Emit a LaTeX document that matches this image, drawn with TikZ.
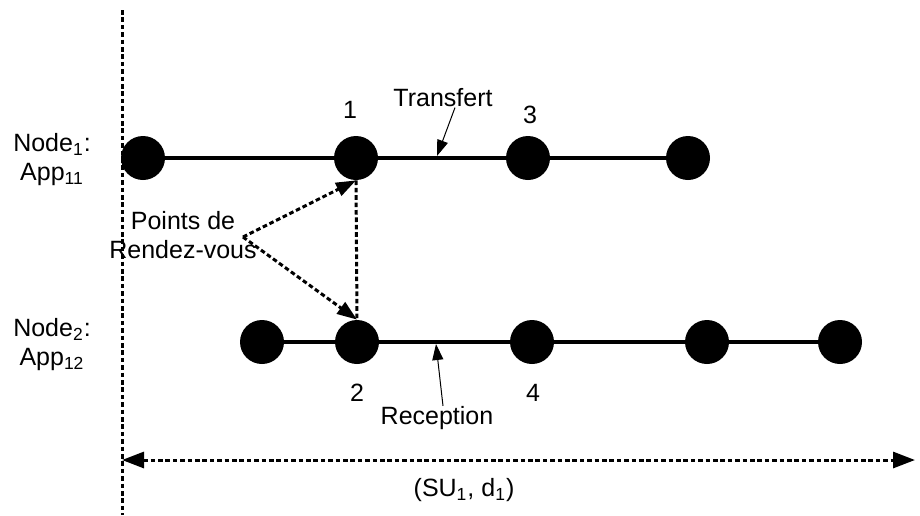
\documentclass[tikz,border=0pt]{standalone}
\usepackage{fontspec}
\setmainfont{Liberation Sans}
\usetikzlibrary{arrows.meta}

\tikzset{
  evt/.style={circle, fill=black, minimum size=22pt, inner sep=0pt},
  axe/.style={line width=2pt},
  pointille/.style={line width=1.5pt, dash pattern=on 2.3pt off 1.4pt},
  fleche/.style={line width=0.5pt, -{Triangle[length=8pt,width=5.5pt]}},
  lbl/.style={font=\fontsize{12.5}{14.5}\selectfont, inner sep=0pt, align=center}
}

\begin{document}
\begin{tikzpicture}[x=0.5pt, y=-0.5pt]
  % cadre de l'image
  \useasboundingbox (0,0) rectangle (920,515);

  % ligne verticale de depart
  \coordinate (vhaut) at (122,10);
  \coordinate (vbas) at (122,515);
  \draw[pointille] (vhaut) -- (vbas);

  % evenements de App11
  \node[evt] (t1) at (143,158) {};
  \node[evt] (t2) at (356,158) {};
  \node[evt] (t3) at (528,158) {};
  \node[evt] (t4) at (688,158) {};
  \draw[axe] (t1) -- (t2) -- (t3) -- (t4);

  % evenements de App12
  \node[evt] (b1) at (262,342) {};
  \node[evt] (b2) at (357,342) {};
  \node[evt] (b3) at (532,342) {};
  \node[evt] (b4) at (707,342) {};
  \node[evt] (b5) at (840,342) {};
  \draw[axe] (b1) -- (b2) -- (b3) -- (b4) -- (b5);

  % noms des applications
  \node[lbl] (app1) at (52,160) {Node\textsubscript{1}:\\App\textsubscript{11}};
  \node[lbl] (app2) at (52,345) {Node\textsubscript{2}:\\App\textsubscript{12}};

  % numeros
  \node[lbl] (n1) at (350,110) {1};
  \node[lbl] (n3) at (530,115) {3};
  \node[lbl] (n2) at (357,393) {2};
  \node[lbl] (n4) at (533,393) {4};

  % transfert et reception
  \node[lbl] (tr) at (443,98) {Transfert};
  \coordinate (trfin) at (437,156);
  \draw[fleche] ([xshift=6pt]tr.south) -- (trfin);

  \node[lbl] (rc) at (437,418) {Reception};
  \coordinate (rcfin) at (436,344);
  \draw[fleche] ([xshift=3pt]rc.north) -- (rcfin);

  % points de rendez-vous
  \node[lbl] (rdv) at (183,235) {Points de\\Rendez-vous};
  \coordinate (rdvpt) at (243,237);
  \draw[pointille, -{Triangle[length=10pt,width=7pt]}] (rdvpt) -- (t2.south);
  \draw[pointille, -{Triangle[length=10pt,width=7pt]}] (rdvpt) -- (b2.north);
  \draw[pointille] (t2.south) -- (b2.north);

  % duree
  \coordinate (dg) at (122,460);
  \coordinate (dd) at (915,460);
  \draw[pointille, {Triangle[length=11pt,width=8pt]}-{Triangle[length=11pt,width=8pt]}] (dg) -- (dd);
  \node[lbl] (su) at (464,490) {(SU\textsubscript{1}, d\textsubscript{1})};
\end{tikzpicture}
\end{document}
